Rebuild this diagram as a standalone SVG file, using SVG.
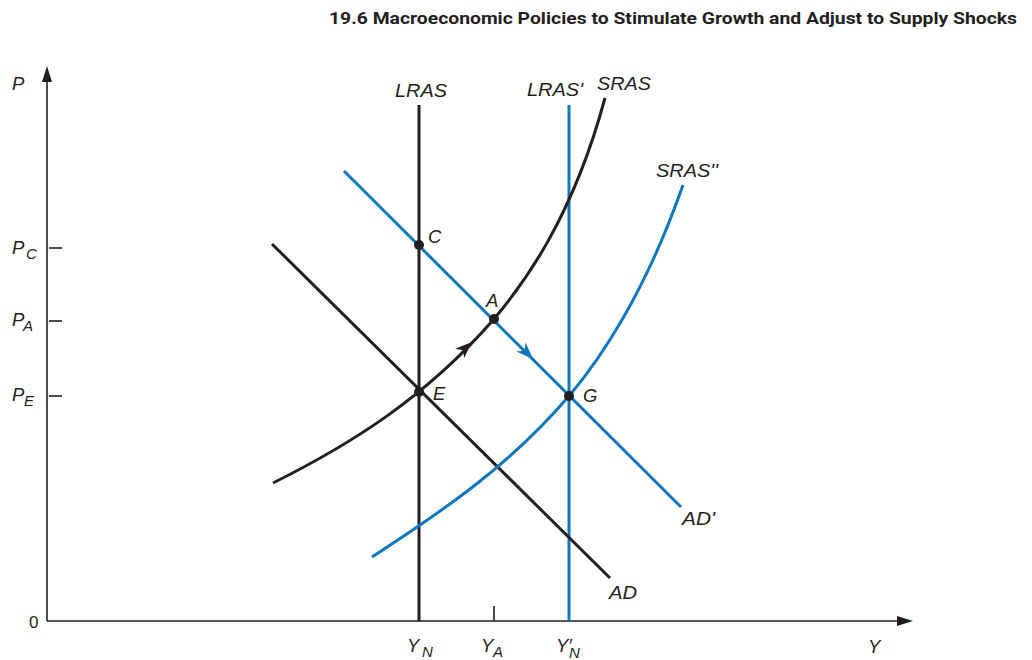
<svg xmlns="http://www.w3.org/2000/svg" width="1032" height="660" viewBox="0 0 1032 660">
<style>
.ax{stroke:#231f20;stroke-width:1.6;fill:none}
.k{stroke:#231f20;stroke-width:3;fill:none}
.b{stroke:#0f78bd;stroke-width:3;fill:none}
.t{font-family:"Liberation Sans",Arial,sans-serif;font-style:italic;font-size:18.5px;fill:#231f20}
.s{font-family:"Liberation Sans",Arial,sans-serif;font-style:italic;font-size:15px;fill:#231f20}
.h{font-family:Roboto,"Liberation Sans",sans-serif;font-weight:700;font-size:17px;fill:#231f20}
.dot{fill:#231f20}
</style>
<defs>
<path id="ah" d="M0,0 L-17,-6.5 L-12,0 L-17,6.5 Z"/>
</defs>
<rect width="1032" height="660" fill="#fff"/>
<text class="h" x="329" y="24" textLength="688" lengthAdjust="spacingAndGlyphs">19.6  Macroeconomic Policies to Stimulate Growth and Adjust to Supply Shocks</text>
<g id="axes">
<line class="ax" x1="47" y1="621" x2="47" y2="76"/>
<path d="M47,66 L42,82 L52,82 Z" fill="#231f20"/>
<line class="ax" x1="47" y1="621" x2="903" y2="621"/>
<path d="M913,621 L897,616 L897,626 Z" fill="#231f20"/>
<line class="ax" x1="49" y1="248" x2="62" y2="248"/>
<line class="ax" x1="49" y1="321" x2="62" y2="321"/>
<line class="ax" x1="49" y1="396" x2="62" y2="396"/>
<line class="ax" x1="494" y1="606" x2="494" y2="621"/>
<text class="t" x="12" y="90">P</text>
<text class="t" x="12" y="254">P</text><text class="s" x="26" y="259">C</text>
<text class="t" x="12" y="326">P</text><text class="s" x="23" y="331">A</text>
<text class="t" x="12" y="401">P</text><text class="s" x="24" y="406">E</text>
<text x="29" y="628" font-family="'Liberation Sans',Arial,sans-serif" font-size="17" fill="#231f20">0</text>
<text class="t" x="407" y="652">Y</text><text class="s" x="422" y="657">N</text>
<text class="t" x="481" y="652">Y</text><text class="s" x="493" y="657">A</text>
<text class="t" x="556" y="652">Y′</text><text class="s" x="569" y="658">N</text>
<text class="t" x="868" y="653">Y</text>
</g>
<g id="connectors">
<line class="k" x1="419" y1="105" x2="419" y2="621"/>
<line class="b" x1="569" y1="105" x2="569" y2="621"/>
<line class="k" x1="272" y1="244" x2="610" y2="578"/>
<line class="b" x1="344" y1="171" x2="681" y2="507"/>
<path class="k" d="M273,483 C348,445.5 424,399.5 494,319 C524,283.3 572.6,218 605,98"/>
<path class="b" d="M372,557 C442,511.5 509,466.2 569,396 C599,360.9 644.5,295 683,185"/>
<use href="#ah" fill="#231f20" transform="translate(472,342) rotate(-43)"/>
<use href="#ah" fill="#0f78bd" transform="translate(533,359) rotate(45)"/>
</g>
<g id="node-LRAS"><text class="t" x="395" y="97" textLength="52" lengthAdjust="spacingAndGlyphs">LRAS</text></g>
<g id="node-LRAS2"><text class="t" x="527" y="96" textLength="56" lengthAdjust="spacingAndGlyphs">LRAS'</text></g>
<g id="node-SRAS"><text class="t" x="597" y="90" textLength="54" lengthAdjust="spacingAndGlyphs">SRAS</text></g>
<g id="node-SRAS2"><text class="t" x="656" y="177" textLength="62" lengthAdjust="spacingAndGlyphs">SRAS''</text></g>
<g id="node-AD2"><text class="t" x="682" y="525" textLength="33" lengthAdjust="spacingAndGlyphs">AD'</text></g>
<g id="node-AD"><text class="t" x="609" y="599" textLength="28" lengthAdjust="spacingAndGlyphs">AD</text></g>
<g id="node-C"><circle class="dot" cx="419" cy="245" r="5"/><text class="t" x="428" y="243">C</text></g>
<g id="node-A"><circle class="dot" cx="494" cy="319" r="5"/><text class="t" x="486" y="307">A</text></g>
<g id="node-E"><circle class="dot" cx="419" cy="392" r="5"/><text class="t" x="433" y="400">E</text></g>
<g id="node-G"><circle class="dot" cx="569" cy="396" r="5"/><text class="t" x="583" y="402">G</text></g>
</svg>
